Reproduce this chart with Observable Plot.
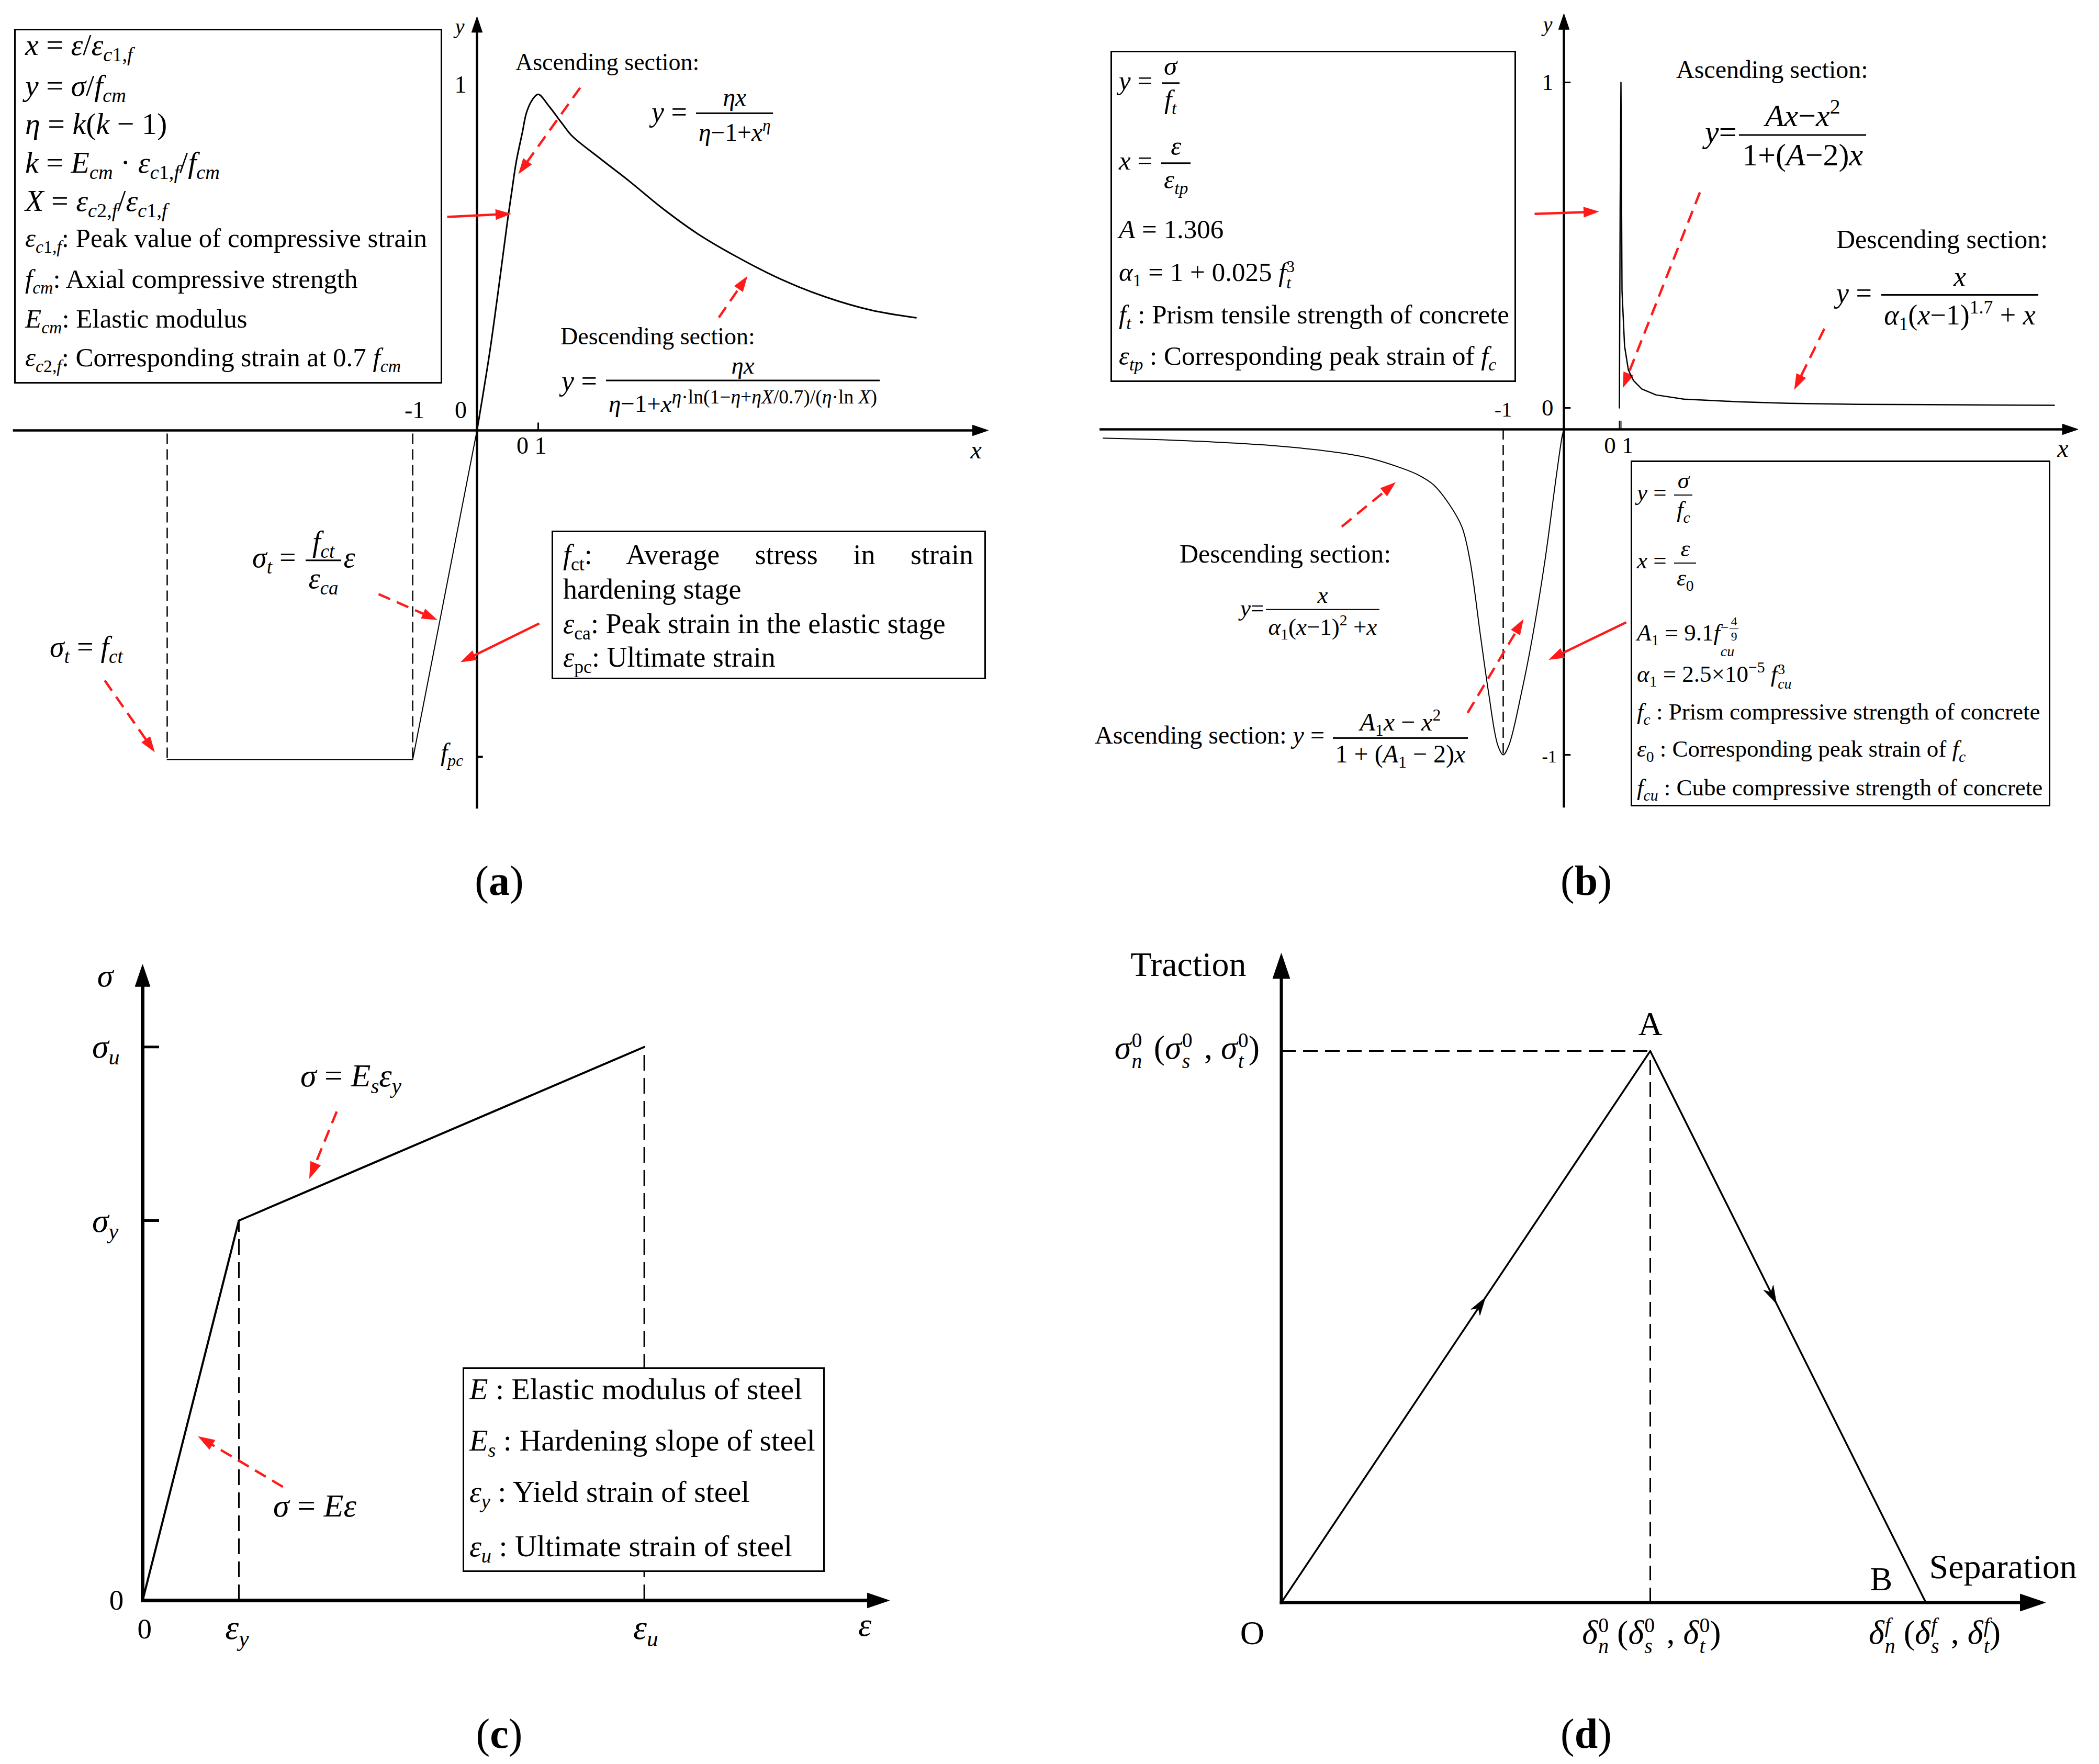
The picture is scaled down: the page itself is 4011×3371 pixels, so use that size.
<!DOCTYPE html>
<html><head><meta charset="utf-8">
<script src="https://cdn.jsdelivr.net/npm/d3@7"></script>
<script src="https://cdn.jsdelivr.net/npm/@observablehq/plot@0.6"></script>
<style>
html,body{margin:0;padding:0;background:#fff;overflow:hidden}
#root{position:relative;width:4011px;height:3371px;overflow:hidden;background:#fff;font-family:"Liberation Serif","Times New Roman",serif;color:#000}
.lbl{position:absolute;white-space:nowrap;line-height:1.1}
.box{position:absolute;border:3px solid #000;box-sizing:border-box}
sub{font-size:0.66em;vertical-align:-0.32em;line-height:0}
sup{font-size:0.66em;vertical-align:0.6em;line-height:0}
.f{display:inline-flex;flex-direction:column;align-items:center;vertical-align:middle;margin:0 0.08em}
.f>span{display:block;line-height:1.2;padding:0 0.1em}
.f>span:last-child{border-top:0.065em solid #000}
.ss{display:inline-flex;flex-direction:column;font-size:0.62em;line-height:1;vertical-align:0.55em;margin-left:0.03em}
b{font-weight:bold}
</style></head>
<body><div id="root"></div>
<script>
// ---------------- DATA ----------------
// (a) normalised concrete curve: compression (x = ε/εc1,f, y = σ/fcm)
const aCompX = [0, 0.205, 0.35, 0.50, 0.57, 0.64, 0.74, 0.81, 0.91, 1.0, 1.18, 1.38, 1.55, 2.02, 2.50, 3.00, 3.59, 4.22, 4.96, 5.70, 6.44, 7.17];
const aCompY = [0, 0.223, 0.408, 0.609, 0.694, 0.777, 0.862, 0.921, 0.959, 0.973, 0.938, 0.891, 0.853, 0.786, 0.720, 0.647, 0.571, 0.505, 0.438, 0.386, 0.348, 0.326];
// (a) tension branch
const aTensX = [0, -1.05, -5.06];
const aTensY = [0, -0.953, -0.953];
const aDashX = [-1.05, -5.06];
const aFpc = -0.945;
// (b) tension curve (upper, own strain scale)
const bUpX = [0, 0.5, 1, 1.67, 3.3, 5.7, 9, 14.3, 23.3, 41, 75, 108, 153, 198, 277];
const bUpY = [0, 0.62, 1, 0.36, 0.19, 0.117, 0.084, 0.058, 0.040, 0.027, 0.019, 0.014, 0.011, 0.010, 0.008];
// (b) compression curve (lower)
const bLowX = [0, -0.026, -0.13, -0.31, -0.52, -0.70, -0.905, -1.0, -1.09, -1.24, -1.37, -1.55, -1.68, -1.89, -2.15, -2.40, -2.66, -3.17, -3.69, -4.72, -5.76, -6.79, -7.59];
const bLowY = [0, -0.018, -0.15, -0.40, -0.64, -0.81, -0.97, -1.0, -0.97, -0.81, -0.64, -0.40, -0.30, -0.23, -0.17, -0.14, -0.12, -0.09, -0.072, -0.051, -0.039, -0.031, -0.027];
// (c) steel bilinear: 0, yield, ultimate
const cEps = [0, 1, 5.21];
const cSig = [0, 1, 1.457];
// (d) cohesive traction–separation: O, A, B
const dSep = [0, 1, 1.747];
const dTrac = [0, 1, 0];

// annotation arrows (data coordinates of each panel)
const aRedSolid = [{x1:-0.487,y1:0.618,x2:0.547,y2:0.627},{x1:1.017,y1:-0.559,x2:-0.256,y2:-0.670}];
const aRedDash = [{x1:1.684,y1:0.992,x2:0.684,y2:0.744},{x1:3.95,y1:0.327,x2:4.41,y2:0.445},{x1:-1.607,y1:-0.474,x2:-0.658,y2:-0.548},{x1:-6.08,y1:-0.724,x2:-5.27,y2:-0.930}];
const bRedSolid = [{x1:-0.483,y1:0.662,x2:0.569,y2:0.669},{x1:1.026,y1:-0.593,x2:-0.241,y2:-0.707}];
const bRedDash = [{x1:2.24,y1:0.728,x2:0.974,y2:0.129},{x1:4.29,y1:0.309,x2:3.80,y2:0.124},{x1:-3.66,y1:-0.299,x2:-2.78,y2:-0.164},{x1:-1.586,y1:-0.871,x2:-0.672,y2:-0.585}];
const cRedDash = [{x1:2.016,y1:1.287,x2:1.734,y2:1.112},{x1:1.457,y1:0.299,x2:0.582,y2:0.431}];
const dFlow = [{x1:0,y1:0,x2:0.553,y2:0.553},{x1:1,y1:1,x2:1.342,y2:0.542}];

// axis extents
const aAxes = [{x1:-7.58,y1:0,x2:8.35,y2:0},{x1:0,y1:-1.095,x2:0,y2:1.198}];
const bAxes = [{x1:-7.65,y1:0,x2:8.47,y2:0},{x1:0,y1:-1.162,x2:0,y2:1.277}];
const cAxes = [{x1:0,y1:0,x2:7.755,y2:0},{x1:0,y1:0,x2:0,y2:1.674}];
const dAxes = [{x1:0,y1:0,x2:2.071,y2:0},{x1:0,y1:0,x2:0,y2:1.177}];

// tick labels
const aTicks = [{t:"1",x:-0.27,y:1},{t:"0",x:-0.265,y:0.058},{t:"-1",x:-1.02,y:0.058},{t:"0 1",x:0.89,y:-0.045}];
const aVars = [{t:"y",x:-0.28,y:1.168},{t:"x",x:8.15,y:-0.058}];
const bTicksUp = [{t:"1",x:-0.27,y:1},{t:"0",x:-0.27,y:0}];
const bTicks = [{t:"0 1",x:0.905,y:-0.05},{t:"-1",x:-1.0,y:0.06}];
const bTicksLow = [{t:"-1",x:-0.24,y:-1.006}];
const bVars = [{t:"y",x:-0.267,y:1.244},{t:"x",x:8.22,y:-0.06}];
const cTicks = [{t:"0",x:-0.272,y:0},{t:"0",x:0.02,y:-0.076}];
const dPoints = [{t:"A",x:1.0,y:1.048},{t:"O",x:-0.079,y:-0.056},{t:"B",x:1.626,y:0.042}];
const dNames = [{t:"Traction",x:-0.252,y:1.156}];
const dNames2 = [{t:"Separation",x:1.756,y:0.064}];

// ---------------- HELPERS ----------------
const W = 4011, H = 3371, RED = "#ff1a1a", FONT = "Liberation Serif, Times New Roman, serif";
const root = document.getElementById("root");
const zip = (xs, ys) => xs.map((x, i) => ({x, y: ys[i]}));
const tri = {draw(ctx, size){const L=Math.sqrt(size/Math.PI), w=L*0.34; ctx.moveTo(0,0); ctx.lineTo(w,L); ctx.lineTo(-w,L); ctx.closePath();}};
const barb = {draw(ctx, size){const L=Math.sqrt(size/Math.PI), w=L*0.3; ctx.moveTo(0,0); ctx.lineTo(w,L); ctx.lineTo(0,L*0.7); ctx.lineTo(-w,L); ctx.closePath();}};
const ang = (sx, sy) => d => Math.atan2(sx(d.x2)-sx(d.x1), sy(d.y1)-sy(d.y2))*180/Math.PI;

function arrows(rows, sx, sy, o){
  return [
    Plot.arrow(rows, {x1:"x1",y1:"y1",x2:"x2",y2:"y2",headLength:0,insetEnd:o.inset,stroke:o.color,strokeWidth:o.width,strokeDasharray:o.dash,strokeLinecap:o.cap||"butt"}),
    Plot.dot(rows, {x:"x2",y:"y2",r:o.len,symbol:o.head||tri,fill:o.color,stroke:o.color,strokeWidth:1,rotate:ang(sx,sy)})
  ];
}
function heads(rows, sx, sy, o){
  return Plot.dot(rows, {x:"x2",y:"y2",r:o.len,symbol:o.head,fill:o.color,stroke:o.color,strokeWidth:1,rotate:ang(sx,sy)});
}
function txt(rows, size, o={}){
  return Plot.text(rows, {x:"x",y:"y",text:"t",fontSize:size,fontFamily:FONT,fill:"#000",fontStyle:o.italic?"italic":"normal",textAnchor:o.anchor||"middle",dy:o.dy||0});
}
function layer(sx, sy, marks){
  const p = Plot.plot({
    width: W, height: H, margin: 0,
    x: {type:"linear", domain: sx.domain(), range: sx.range(), axis: null},
    y: {type:"linear", domain: sy.domain(), range: sy.range(), axis: null},
    marks
  });
  Object.assign(p.style, {position:"absolute", left:"0", top:"0", background:"transparent", maxWidth:"none", overflow:"visible"});
  root.appendChild(p);
}
function put(x, y, html, size, anchor="start", extra=""){
  const d = document.createElement("div");
  d.className = "lbl";
  const tx = anchor==="middle"?"-50%":anchor==="end"?"-100%":"0";
  d.style.cssText = `left:${x}px;top:${y}px;font-size:${size}px;transform:translate(${tx},-50%);${extra}`;
  d.innerHTML = html; root.appendChild(d);
}
function box(x, y, w, h, white){
  const d = document.createElement("div"); d.className = "box";
  d.style.cssText = `left:${x}px;top:${y}px;width:${w}px;height:${h}px;${white?"background:#fff;":""}`;
  root.appendChild(d);
}
const fr = (n, d, s, ds) => `<span class="f"${s?` style="font-size:${s}em"`:""}><span>${n}</span><span${ds?` style="${ds}"`:""}>${d}</span></span>`;
const ss = (up, dn) => `<span class="ss"><span>${up}</span><span>${dn}</span></span>`;
const I = s => `<i>${s}</i>`;

// ---------------- PANEL (a) ----------------
{
  const sx = d3.scaleLinear([0,1],[911,1028]), sy = d3.scaleLinear([0,1],[822,162]);
  layer(sx, sy, [
    ...arrows(aAxes, sx, sy, {color:"#000", width:4.5, len:30, inset:16}),
    Plot.ruleX(aDashX, {y1:-0.01, y2:aTensY[1], stroke:"#000", strokeWidth:2.5, strokeDasharray:"20,10"}),
    Plot.line(zip(aTensX, aTensY), {x:"x", y:"y", stroke:"#000", strokeWidth:2}),
    Plot.line(zip(aCompX, aCompY), {x:"x", y:"y", stroke:"#000", strokeWidth:3, curve:"catmull-rom"}),
    Plot.ruleX([1], {y1:0, y2:0.022, stroke:"#000", strokeWidth:3}),
    Plot.ruleY([aFpc], {x1:0, x2:0.1, stroke:"#000", strokeWidth:4}),
    txt(aTicks, 46),
    txt(aVars.slice(0,1), 40, {italic:true}),
    txt(aVars.slice(1), 48, {italic:true}),
    ...arrows(aRedSolid, sx, sy, {color:RED, width:4.5, len:28, inset:14}),
    ...arrows(aRedDash, sx, sy, {color:RED, width:4.5, len:28, inset:14, dash:"24,14"})
  ]);
  box(27, 55, 818, 678);
  const c1f = `${I("c")}1,${I("f")}`, c2f = `${I("c")}2,${I("f")}`;
  const L1 = [
    `${I("x")} = ${I("ε")}/${I("ε")}<sub>${c1f}</sub>`,
    `${I("y")} = ${I("σ")}/${I("f")}<sub>${I("cm")}</sub>`,
    `${I("η")} = ${I("k")}(${I("k")} − 1)`,
    `${I("k")} = ${I("E")}<sub>${I("cm")}</sub> · ${I("ε")}<sub>${c1f}</sub>/${I("f")}<sub>${I("cm")}</sub>`,
    `${I("X")} = ${I("ε")}<sub>${c2f}</sub>/${I("ε")}<sub>${c1f}</sub>`
  ];
  const Y1 = [86, 164, 237, 311, 384];
  L1.forEach((h, i) => put(48, Y1[i], h, 58));
  const L2 = [
    `${I("ε")}<sub>${c1f}</sub>: Peak value of compressive strain`,
    `${I("f")}<sub>${I("cm")}</sub>: Axial compressive strength`,
    `${I("E")}<sub>${I("cm")}</sub>: Elastic modulus`,
    `${I("ε")}<sub>${c2f}</sub>: Corresponding strain at 0.7 ${I("f")}<sub>${I("cm")}</sub>`
  ];
  const Y2 = [455, 533, 609, 683];
  L2.forEach((h, i) => put(48, Y2[i], h, 51));
  put(985, 119, "Ascending section:", 46);
  put(1245, 220, `${I("y")} = ${fr(I("ηx"), `${I("η")}−1+${I("x")}<sup>${I("η")}</sup>`, 0.88, "padding-top:0.15em")}`, 54);
  put(1071, 643, "Descending section:", 46);
  put(1073, 734, `${I("y")} = ${fr(I("ηx"), `${I("η")}−1+${I("x")}<sup style="font-size:0.8em;vertical-align:0.42em">${I("η")}·ln(1−${I("η")}+${I("ηX")}/0.7)/(${I("η")}·ln ${I("X")})</sup>`, 0.87, "padding-top:0.28em")}`, 54);
  put(482, 1071, `${I("σ")}<sub>${I("t")}</sub> = ${fr(`${I("f")}<sub>${I("ct")}</sub>`, `${I("ε")}<sub>${I("ca")}</sub>`)}${I("ε")}`, 56);
  put(95, 1237, `${I("σ")}<sub>${I("t")}</sub> = ${I("f")}<sub>${I("ct")}</sub>`, 56);
  put(842, 1438, `${I("f")}<sub>${I("pc")}</sub>`, 48);
  box(1054, 1014, 830, 284);
  put(1076, 1061, `${I("f")}<sub>ct</sub>: Average stress in strain`, 54, "start", "width:784px;text-align:justify;text-align-last:justify;white-space:normal");
  put(1076, 1127, "hardening stage", 54);
  put(1076, 1193, `${I("ε")}<sub>ca</sub>: Peak strain in the elastic stage`, 54);
  put(1076, 1257, `${I("ε")}<sub>pc</sub>: Ultimate strain`, 54);
  put(954, 1683, "(<b>a</b>)", 80, "middle");
}

// ---------------- PANEL (b) ----------------
{
  const sx = d3.scaleLinear([0,1],[2988,3104]), sy = d3.scaleLinear([0,-1],[820,1442]);
  layer(sx, sy, [
    ...arrows(bAxes, sx, sy, {color:"#000", width:4.5, len:30, inset:16}),
    Plot.ruleX([-1], {y1:0, y2:-1, stroke:"#000", strokeWidth:2.5, strokeDasharray:"20,10"}),
    Plot.line(zip(bLowX, bLowY), {x:"x", y:"y", stroke:"#000", strokeWidth:2, curve:"catmull-rom"}),
    Plot.link([0, 1], {x1:0, x2:0.11, y1:d=>d, y2:d=>d, dy:-41, stroke:"#000", strokeWidth:3}),
    Plot.link([-1], {x1:0, x2:0.11, y1:d=>d, y2:d=>d, stroke:"#000", strokeWidth:3}),
    txt(bTicksUp, 45, {dy:-41}),
    txt(bTicks.slice(0,1), 45),
    txt(bTicks.slice(1), 40),
    txt(bTicksLow, 34),
    txt(bVars.slice(0,1), 40, {italic:true}),
    txt(bVars.slice(1), 48, {italic:true}),
    ...arrows(bRedSolid, sx, sy, {color:RED, width:4.5, len:28, inset:14}),
    ...arrows(bRedDash, sx, sy, {color:RED, width:4.5, len:28, inset:14, dash:"24,14"})
  ]);
  const ux = d3.scaleLinear([0,277],[3094,3925]), uy = d3.scaleLinear([0,1],[779,157]);
  layer(ux, uy, [
    Plot.line(zip(bUpX, bUpY), {x:"x", y:"y", stroke:"#000", strokeWidth:2.5}),
    Plot.ruleX([0, 1], {y1:-0.04, y2:-0.066, stroke:"#000", strokeWidth:2})
  ]);
  box(2122, 97, 775, 633);
  const LB = [
    [159, `${I("y")} = ${fr(I("σ"), `${I("f")}<sub>${I("t")}</sub>`)}`],
    [312, `${I("x")} = ${fr(I("ε"), `${I("ε")}<sub>${I("tp")}</sub>`)}`],
    [438, `${I("A")} = 1.306`],
    [524, `${I("α")}<sub>1</sub> = 1 + 0.025 ${I("f")}${ss("3", I("t"))}`],
    [601, `${I("f")}<sub>${I("t")}</sub> : Prism tensile strength of concrete`],
    [680, `${I("ε")}<sub>${I("tp")}</sub> : Corresponding peak strain of ${I("f")}<sub>${I("c")}</sub>`]
  ];
  LB.forEach(([y, h]) => put(2138, y, h, 51));
  box(3116, 880, 802, 661);
  const LC = [
    [946, `${I("y")} = ${fr(I("σ"), `${I("f")}<sub>${I("c")}</sub>`)}`],
    [1076, `${I("x")} = ${fr(I("ε"), `${I("ε")}<sub>0</sub>`)}`],
    [1216, `${I("A")}<sub>1</sub> = 9.1${I("f")}${ss(`−${fr("4","9",0.85)}`, I("cu"))}`],
    [1292, `${I("α")}<sub>1</sub> = 2.5×10<sup>−5</sup> ${I("f")}${ss("3", I("cu"))}`],
    [1361, `${I("f")}<sub>${I("c")}</sub> : Prism compressive strength of concrete`],
    [1432, `${I("ε")}<sub>0</sub> : Corresponding peak strain of ${I("f")}<sub>${I("c")}</sub>`],
    [1506, `${I("f")}<sub>${I("cu")}</sub> : Cube compressive strength of concrete`]
  ];
  LC.forEach(([y, h]) => put(3128, y, h, 45));
  put(3203, 133, "Ascending section:", 48);
  put(3258, 258, `${I("y")}=${fr(`${I("Ax")}−${I("x")}<sup>2</sup>`, `1+(${I("A")}−2)${I("x")}`)}`, 60);
  put(3509, 457, "Descending section:", 50);
  put(3509, 566, `${I("y")} = ${fr(I("x"), `${I("α")}<sub>1</sub>(${I("x")}−1)<sup>1.7</sup> + ${I("x")}`, 0, "padding-top:0.1em")}`, 54);
  put(2254, 1058, "Descending section:", 50);
  put(2370, 1167, `${I("y")}=${fr(I("x"), `${I("α")}<sub>1</sub>(${I("x")}−1)<sup>2</sup> +${I("x")}`, 0, "padding-top:0.1em")}`, 45);
  put(2092, 1410, `Ascending section: ${I("y")} = ${fr(`${I("A")}<sub>1</sub>${I("x")} − ${I("x")}<sup>2</sup>`, `1 + (${I("A")}<sub>1</sub> − 2)${I("x")}`)}`, 48);
  put(3031, 1683, "(<b>b</b>)", 80, "middle");
}

// ---------------- PANEL (c) ----------------
{
  const sx = d3.scaleLinear([0,1],[272,456]), sy = d3.scaleLinear([0,1],[3058,2332]);
  layer(sx, sy, [
    Plot.ruleX([cEps[1]], {y1:0, y2:cSig[1], stroke:"#000", strokeWidth:3, strokeDasharray:"30,14"}),
    Plot.ruleX([cEps[2]], {y1:0, y2:cSig[2], stroke:"#000", strokeWidth:3, strokeDasharray:"30,14"}),
    ...arrows(cAxes, sx, sy, {color:"#000", width:7, len:42, inset:22, cap:"square"}),
    Plot.ruleY([cSig[1], cSig[2]], {x1:0, x2:0.174, stroke:"#000", strokeWidth:5}),
    Plot.line(zip(cEps, cSig), {x:"x", y:"y", stroke:"#000", strokeWidth:4}),
    txt(cTicks, 55),
    txt([{t:"ε", x:7.5, y:-0.065}], 64, {italic:true}),
    ...arrows(cRedDash, sx, sy, {color:RED, width:4.5, len:30, inset:14, dash:"24,14"})
  ]);
  put(201, 1864, I("σ"), 62, "middle");
  put(176, 2000, `${I("σ")}<sub>${I("u")}</sub>`, 64);
  put(176, 2333, `${I("σ")}<sub>${I("y")}</sub>`, 64);
  put(453, 3110, `${I("ε")}<sub>${I("y")}</sub>`, 66, "middle");
  put(1234, 3110, `${I("ε")}<sub>${I("u")}</sub>`, 66, "middle");
  put(574, 2055, `${I("σ")} = ${I("E")}<sub>${I("s")}</sub>${I("ε")}<sub>${I("y")}</sub>`, 62);
  put(522, 2877, `${I("σ")} = ${I("E")}${I("ε")}`, 62);
  box(884, 2613, 692, 391, true);
  const LD = [
    [2655, `${I("E")} : Elastic modulus of steel`],
    [2753, `${I("E")}<sub>${I("s")}</sub> : Hardening slope of steel`],
    [2851, `${I("ε")}<sub>${I("y")}</sub> : Yield strain of steel`],
    [2955, `${I("ε")}<sub>${I("u")}</sub> : Ultimate strain of steel`]
  ];
  LD.forEach(([y, h]) => put(897, y, h, 58));
  put(954, 3313, "(<b>c</b>)", 80, "middle");
}

// ---------------- PANEL (d) ----------------
{
  const sx = d3.scaleLinear([0,1],[2448,3153]), sy = d3.scaleLinear([0,1],[3062,2008]);
  layer(sx, sy, [
    Plot.ruleY([dTrac[1]], {x1:0, x2:dSep[1], stroke:"#000", strokeWidth:3, strokeDasharray:"28,14"}),
    Plot.ruleX([dSep[1]], {y1:0, y2:dTrac[1], stroke:"#000", strokeWidth:3, strokeDasharray:"28,14"}),
    ...arrows(dAxes, sx, sy, {color:"#000", width:6, len:48, inset:26, cap:"square"}),
    Plot.line(zip(dSep, dTrac), {x:"x", y:"y", stroke:"#000", strokeWidth:3.5}),
    heads(dFlow, sx, sy, {color:"#000", len:34, head:barb}),
    txt(dPoints, 64),
    txt(dNames, 66),
    txt(dNames2, 66, {anchor:"start"})
  ]);
  const sp = `<span style="display:inline-block;width:0.35em"></span>`;
  const sg = s => `${I("σ")}${ss("0", I(s))}`;
  const dl = (s, k) => `${I("δ")}${ss(k, I(s))}`;
  put(2407, 2008, `${sg("n")}${sp}(${sg("s")}${sp}, ${sg("t")})`, 64, "end");
  put(3156, 3126, `${dl("n","0")} (${dl("s","0")}${sp}, ${dl("t","0")})`, 64, "middle");
  put(3697, 3126, `${dl("n",I("f"))} (${dl("s",I("f"))}${sp}, ${dl("t",I("f"))})`, 64, "middle");
  put(3031, 3313, "(<b>d</b>)", 80, "middle");
}
</script></body></html>
